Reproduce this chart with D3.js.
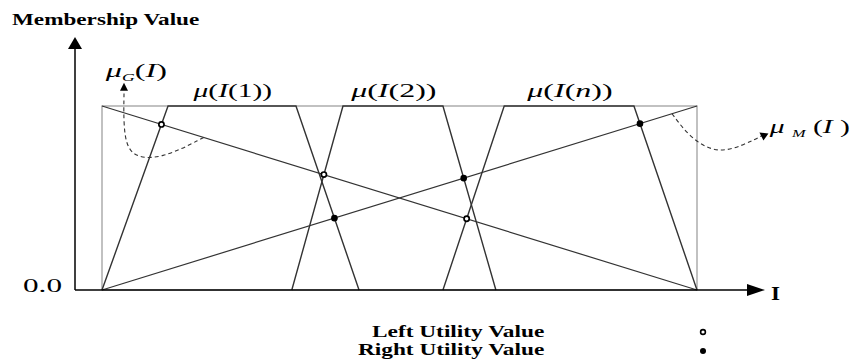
<!DOCTYPE html>
<html>
<head>
<meta charset="utf-8">
<script src="https://cdn.jsdelivr.net/npm/d3@7"></script>
<style>
  body { margin: 0; background: #fff; }
  svg { display: block; }
  text { font-family: "Liberation Serif", "DejaVu Serif", serif; fill: #000; }
</style>
</head>
<body>
<div id="chart"></div>
<script>
// fuzzy sets mu(I(k)) as trapezoids, in units of the I range [0, 1]
var setNames = ['1', '2', 'n'];
var leftFoot = [0.0, 0.319, 0.573];
var leftShoulder = [0.111, 0.405, 0.676];
var rightShoulder = [0.326, 0.573, 0.894];
var rightFoot = [0.432, 0.662, 1.0];

// the two utility lines: muG falls, muM rises
var muG = [[0, 1], [1, 0]];
var muM = [[0, 0], [1, 1]];

var yTickLabel = '0.0';
var legendLabels = ['Left Utility Value', 'Right Utility Value'];

// layout
var width = 853, height = 359;
var plot = { left: 102, right: 697, top: 106, bottom: 290 };

var x = d3.scaleLinear().domain([0, 1]).range([plot.left, plot.right]);
var y = d3.scaleLinear().domain([0, 1]).range([plot.bottom, plot.top]);

var svg = d3.select('#chart').append('svg')
  .attr('width', width)
  .attr('height', height);

var line = d3.line().x(d => x(d[0])).y(d => y(d[1]));

// intersection of two lines given by two points each
function intersect(a, b) {
  var [[x1, y1], [x2, y2]] = a, [[x3, y3], [x4, y4]] = b;
  var den = (x1 - x2) * (y3 - y4) - (y1 - y2) * (x3 - x4);
  var t = ((x1 - x3) * (y3 - y4) - (y1 - y3) * (x3 - x4)) / den;
  return [x1 + t * (x2 - x1), y1 + t * (y2 - y1)];
}

// stretch a text to a given width (the source art is horizontally stretched)
function fitText(x0, base, w, build) {
  var t = svg.append('text');
  build(t);
  var bb = t.node().getBBox();
  t.attr('transform', `translate(${x0 - bb.x * w / bb.width},${base}) scale(${w / bb.width},1)`);
  return t;
}

function mathText(t, parts, size) {
  t.attr('font-size', size);
  parts.forEach(p => {
    var ts = t.append('tspan').text(p.t);
    if (p.i) ts.attr('font-style', 'italic');
    if (p.sub) ts.attr('font-size', size * 0.55).attr('dy', size * 0.2);
    if (p.up) ts.attr('dy', -size * 0.2);
  });
}

// bounding box of the I range
svg.append('rect')
  .attr('x', x(0)).attr('y', y(1))
  .attr('width', x(1) - x(0)).attr('height', y(0) - y(1))
  .attr('fill', 'none').attr('stroke', '#a0a0a0').attr('stroke-width', 1.3);

// trapezoids
setNames.forEach((n, i) => {
  svg.append('path')
    .attr('d', line([[leftFoot[i], 0], [leftShoulder[i], 1], [rightShoulder[i], 1], [rightFoot[i], 0]]))
    .attr('fill', 'none').attr('stroke', '#333').attr('stroke-width', 1.4);
});

// utility diagonals
[muG, muM].forEach(l => {
  svg.append('path').attr('d', line(l))
    .attr('fill', 'none').attr('stroke', '#333').attr('stroke-width', 1.2);
});

// axes
var axisX0 = x.invert(75), axisX1 = x.invert(750), arrowX = x.invert(765);
var axisYtop = y.invert(49), arrowY = y.invert(37);
svg.append('line')
  .attr('x1', x(axisX0)).attr('y1', y(0)).attr('x2', x(axisX1)).attr('y2', y(0))
  .attr('stroke', '#000').attr('stroke-width', 1.5);
svg.append('line')
  .attr('x1', x(axisX0)).attr('y1', y(0)).attr('x2', x(axisX0)).attr('y2', y(axisYtop))
  .attr('stroke', '#000').attr('stroke-width', 1.5);
svg.append('path')
  .attr('d', `M${x(arrowX)},${y(0)} L${x(axisX1) - 3},${y(0) - 6} L${x(axisX1) - 3},${y(0) + 6} Z`)
  .attr('fill', '#000');
svg.append('path')
  .attr('d', `M${x(axisX0)},${y(arrowY)} L${x(axisX0) - 7},${y(axisYtop)} L${x(axisX0) + 7},${y(axisYtop)} Z`)
  .attr('fill', '#000');

// dashed annotation curves
var curve = d3.line().x(d => x(d[0])).y(d => y(d[1])).curve(d3.curveBasis);
var gStart = 0.171, mStart = 0.958;
var gPath = [[gStart, 1 - gStart], [0.10, 0.71], [0.045, 0.72], [0.036, 0.88], [0.037, 1.06], [0.037, 1.07]];
var mPath = [[mStart, mStart], [0.99, 0.82], [1.035, 0.74], [1.08, 0.79], [1.11, 0.84]];
[gPath, mPath].forEach(p => {
  svg.append('path').attr('d', curve(p))
    .attr('fill', 'none').attr('stroke', '#333').attr('stroke-width', 1.1)
    .attr('stroke-dasharray', '4,3');
});
// arrowheads
var gt = [x(0.037), y(1.11)];
svg.append('path')
  .attr('d', `M${gt[0]},${gt[1] - 3} L${gt[0] - 4},${gt[1] + 5} L${gt[0] + 4},${gt[1] + 5} Z`)
  .attr('fill', '#000');
var mt = [x(1.11), y(0.84)];
svg.append('path')
  .attr('d', `M${mt[0] + 6},${mt[1] - 2} L${mt[0] - 3},${mt[1] - 3} L${mt[0] + 1},${mt[1] + 5} Z`)
  .attr('fill', '#000');

// utility values
var leftPts = setNames.map((n, i) => intersect(muG, [[leftFoot[i], 0], [leftShoulder[i], 1]]));
var rightPts = setNames.map((n, i) => intersect(muM, [[rightShoulder[i], 1], [rightFoot[i], 0]]));

svg.selectAll('.left-util').data(leftPts).enter().append('circle')
  .attr('class', 'left-util')
  .attr('cx', d => x(d[0])).attr('cy', d => y(d[1])).attr('r', 2.6)
  .attr('fill', '#fff').attr('stroke', '#000').attr('stroke-width', 1.7);
svg.selectAll('.right-util').data(rightPts).enter().append('circle')
  .attr('class', 'right-util')
  .attr('cx', d => x(d[0])).attr('cy', d => y(d[1])).attr('r', 3.3)
  .attr('fill', '#000');

// texts
fitText(12, 25, 188, t => t.text('Membership Value').attr('font-size', 17).attr('font-weight', 'bold'));
fitText(23, 292, 39, t => t.text(yTickLabel).attr('font-size', 18));
fitText(771, 300, 9, t => t.text('I').attr('font-size', 18).attr('font-weight', 'bold'));

setNames.forEach((n, i) => {
  var cx = x((leftShoulder[i] + rightShoulder[i]) / 2);
  var w = n === '1' ? 80 : 87;
  fitText(cx - w / 2, 97, w, t => mathText(t, [
    { t: 'μ', i: true }, { t: '(' }, { t: 'I', i: true }, { t: '(' },
    { t: n, i: n === 'n' }, { t: '))' }
  ], 19));
});

fitText(104, 77, 63, t => mathText(t, [
  { t: 'μ', i: true }, { t: 'G', i: true, sub: true }, { t: '(', up: true }, { t: 'I', i: true }, { t: ')' }
], 18));
fitText(768, 133, 82, t => mathText(t, [
  { t: 'μ ', i: true }, { t: 'M', i: true, sub: true }, { t: '  (', up: true }, { t: 'I', i: true }, { t: ' )' }
], 18));

// legend
fitText(372, 337, 173, t => t.text(legendLabels[0]).attr('font-size', 17).attr('font-weight', 'bold'));
fitText(358, 355, 187, t => t.text(legendLabels[1]).attr('font-size', 17).attr('font-weight', 'bold'));
svg.append('circle').attr('cx', 703).attr('cy', 332).attr('r', 2.4)
  .attr('fill', '#fff').attr('stroke', '#000').attr('stroke-width', 1.6);
svg.append('circle').attr('cx', 703).attr('cy', 351).attr('r', 3)
  .attr('fill', '#000');
</script>
</body>
</html>
